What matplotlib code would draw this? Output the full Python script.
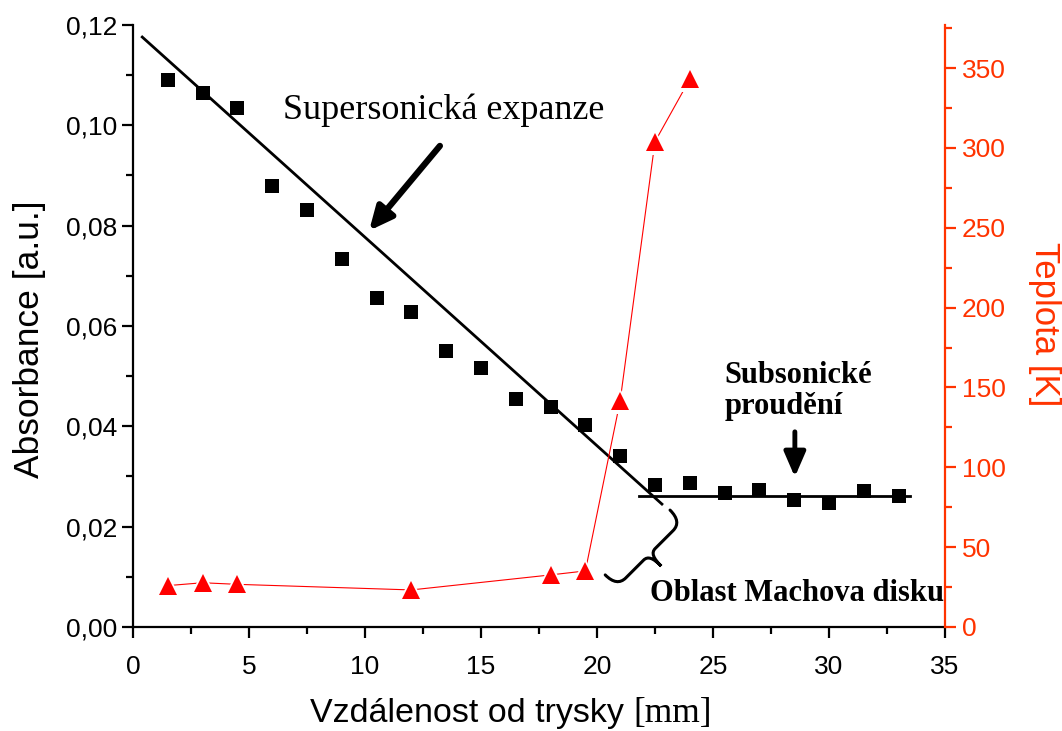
import matplotlib
matplotlib.use("Agg")
import matplotlib.pyplot as plt
import matplotlib.transforms as mtransforms
from matplotlib.path import Path
from matplotlib.patches import PathPatch

# Absorbance (leve osa)
vzdalenost = [1.5, 3, 4.5, 6, 7.5, 9, 10.5, 12, 13.5, 15, 16.5, 18, 19.5, 21,
              22.5, 24, 25.5, 27, 28.5, 30, 31.5, 33]
absorbance = [0.1090, 0.1064, 0.1035, 0.0880, 0.0831, 0.0733, 0.0656, 0.0628,
              0.0550, 0.0517, 0.0454, 0.0438, 0.0403, 0.0341, 0.0284, 0.0288,
              0.0268, 0.0273, 0.0253, 0.0247, 0.0271, 0.0261]

# Teplota (prava osa)
vzdalenost_t = [1.5, 3, 4.5, 12, 18, 19.5, 21, 22.5, 24]
teplota = [25.9, 27.7, 26.7, 23.2, 32.6, 35.1, 141.7, 303.9, 343]

# primky
super_x = [0.4, 22.8]
super_y = [0.1176, 0.0245]
sub_x = [21.8, 33.5]
sub_y = [0.0261, 0.0261]

xticks = [0, 5, 10, 15, 20, 25, 30, 35]
yticks = [0, 0.02, 0.04, 0.06, 0.08, 0.10, 0.12]
ylabels = ["0,00", "0,02", "0,04", "0,06", "0,08", "0,10", "0,12"]
tticks = [0, 50, 100, 150, 200, 250, 300, 350]

sans = "Liberation Sans"
serif = "Liberation Serif"
oranzova = "#ff3300"
plt.rcParams["font.family"] = sans

fig = plt.figure(figsize=(10.62, 7.31), dpi=100)
ax = fig.add_axes([0.1252, 0.1423, 0.7646, 0.8235])
ax2 = ax.twinx()

ax.plot(super_x, super_y, color="black", lw=2.0, zorder=2)
ax.plot(sub_x, sub_y, color="black", lw=2.0, zorder=2)
ax.plot(vzdalenost, absorbance, "s", color="black", ms=9.5, mew=0, zorder=3)

ax2.plot(vzdalenost_t, teplota, color="red", lw=0.8, zorder=1)
ax2.plot(vzdalenost_t, teplota, "^", color="white", ms=19, mew=0, zorder=2)
ax2.plot(vzdalenost_t, teplota, "^", color="red", ms=13, mew=0, zorder=3)

ax.set_xlim(0, 35)
ax.set_ylim(0, 0.12)
ax2.set_ylim(0, 377)

ax.set_xticks(xticks)
ax.set_xticks([2.5, 7.5, 12.5, 17.5, 22.5, 27.5, 32.5], minor=True)
ax.set_yticks(yticks)
ax.set_yticklabels(ylabels)
ax.set_yticks([0.01, 0.03, 0.05, 0.07, 0.09, 0.11], minor=True)
ax2.set_yticks(tticks)
ax2.set_yticks([25, 75, 125, 175, 225, 275, 325, 375], minor=True)

for a in (ax, ax2):
    a.spines["top"].set_visible(False)
    for s in a.spines.values():
        s.set_linewidth(1.6)
ax.spines["right"].set_visible(False)
ax2.spines["left"].set_visible(False)
ax2.spines["bottom"].set_visible(False)
ax2.spines["right"].set_color(oranzova)

ax.tick_params(axis="both", which="major", length=8, width=1.6, labelsize=19)
ax.tick_params(axis="both", which="minor", length=5, width=1.6)
ax.tick_params(axis="x", pad=12)
ax.tick_params(axis="y", pad=3)
ax2.tick_params(axis="y", which="major", length=8, width=1.6, labelsize=19,
                colors=oranzova, pad=4)
ax2.tick_params(axis="y", which="minor", length=5, width=1.6, colors=oranzova)

ax.set_ylabel("Absorbance [a.u.]", fontsize=25.5, va="center")
ax.yaxis.set_label_coords(-0.127, 0.478)
ax2.set_ylabel("Teplota [K]", fontsize=25, color=oranzova, rotation=270,
               va="center")
ax2.yaxis.set_label_coords(1.123, 0.503)

ax.text(0.616, -0.158, "Vzdálenost od trysky ", transform=ax.transAxes,
        ha="right", va="baseline", fontsize=24.5)
ax.text(0.616, -0.158, "[mm]", transform=ax.transAxes, ha="left",
        va="baseline", fontsize=25.5, family=serif)

# popisky
ax.text(6.45, 0.103, "Supersonická expanze", family=serif, fontsize=26,
        ha="left", va="center")
ax.annotate("", xy=(10.18, 0.0790), xytext=(13.23, 0.0959),
            arrowprops=dict(arrowstyle="-|>,head_length=1.4,head_width=0.65",
                            color="black", lw=4.5, shrinkA=0, shrinkB=0))

ax.text(25.5, 0.0471, "Subsonické\nproudění", family=serif, fontsize=22,
        fontweight="bold", ha="left", va="center", linespacing=1.1)
ax.annotate("", xy=(28.53, 0.0299), xytext=(28.53, 0.0389),
            arrowprops=dict(arrowstyle="-|>,head_length=1.5,head_width=0.65",
                            color="black", lw=3.5, shrinkA=0, shrinkB=0))

ax.text(22.3, 0.0066, "Oblast Machova disku", family=serif, fontsize=22,
        fontweight="bold", ha="left", va="center")

# slozena zavorka (v bodech, otocena)
L = 66.0
d = 12.0
c = 24.0
verts = [(0, 0), (0, 8), (3, d), (9, d),
         (L / 2 - 6, d),
         (L / 2 - 1.5, d), (L / 2, d + 4), (L / 2, c),
         (L / 2, d + 4), (L / 2 + 1.5, d), (L / 2 + 6, d),
         (L - 9, d),
         (L - 3, d), (L, 8), (L, 0)]
codes = [Path.MOVETO, Path.CURVE4, Path.CURVE4, Path.CURVE4,
         Path.LINETO,
         Path.CURVE4, Path.CURVE4, Path.CURVE4,
         Path.CURVE4, Path.CURVE4, Path.CURVE4,
         Path.LINETO,
         Path.CURVE4, Path.CURVE4, Path.CURVE4]
tr = (mtransforms.Affine2D().rotate_deg(225).scale(fig.dpi / 72.0)
      + mtransforms.ScaledTranslation(23.15, 0.0233, ax.transData))
zavorka = PathPatch(Path(verts, codes), transform=tr, fill=False,
                    edgecolor="black", lw=2.2, clip_on=False, capstyle="round")
ax.add_artist(zavorka)

fig.savefig("out.png", dpi=100)
